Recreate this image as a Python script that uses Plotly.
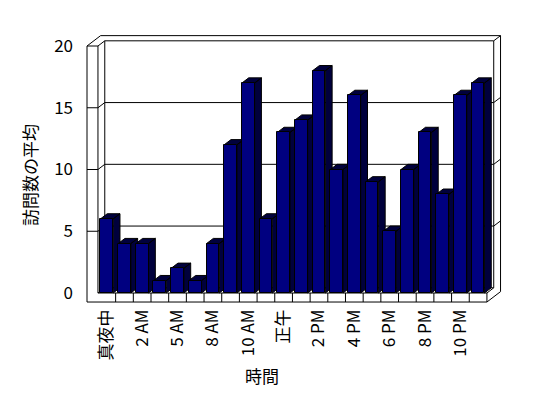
import plotly.graph_objects as go

# ---- data ----
categories = ["真夜中", "1 AM", "2 AM", "3 AM", "5 AM", "6 AM", "8 AM", "9 AM",
              "10 AM", "11 AM", "正午", "1 PM", "2 PM", "3 PM", "4 PM", "5 PM",
              "6 PM", "7 PM", "8 PM", "9 PM", "10 PM", "11 PM"]
values = [6, 4, 4, 1, 2, 1, 4, 12, 17, 6, 13, 14, 18, 10, 16, 9, 5, 10, 13, 8, 16, 17]
y_ticks = [0, 5, 10, 15, 20]
y_title = "訪問数の平均"
x_title = "時間"

# ---- geometry (in axis units) ----
n = len(categories)
xs = list(range(n))
tick_idx = list(range(0, n, 2))
tick_text = [categories[i] for i in tick_idx]

W = 0.72           # bar front width
DX, DY = 0.385, 0.42   # depth vector
XLI = -0.5
XLO = -1.12
XR = n - 0.5
YB = -0.73
YT = y_ticks[-1]

FONT = "Noto Sans CJK JP, Noto Sans, sans-serif"

# side + top faces of each bar (from data)
fx, fy = [], []
for c, v in zip(xs, values):
    xl, xr = c - W / 2, c + W / 2
    fx += [xr, xr + DX, xr + DX, xr, xr, None]
    fy += [0, DY, v + DY, v, 0, None]
    fx += [xl, xr, xr + DX, xl + DX, xl, None]
    fy += [v, v, v + DY, v + DY, v, None]

fig = go.Figure()
fig.add_trace(go.Scatter(x=fx, y=fy, mode="lines", fill="toself",
                         fillcolor="#00003c", line=dict(color="black", width=1),
                         hoverinfo="skip", showlegend=False, xaxis="x", yaxis="y"))
fig.add_trace(go.Bar(x=xs, y=values, width=W,
                     marker=dict(color="#000080", line=dict(color="black", width=1)),
                     showlegend=False, xaxis="x2", yaxis="y2"))

# ---- walls / floor ----
segs = [
    ((XLO, YT), (XLI, YT)),
    ((XLO, YT), (XLO, YB)),
    ((XLO, YB), (XR, YB)),
    ((XLI, YT), (XLI, 0)),
    ((XLI, 0), (XR, 0)),
    ((XR, 0), (XR, YB)),
    ((XR, YB), (XR + 2 * DX, YB + 2 * DY)),
    ((XR + 2 * DX, YB + 2 * DY), (XR + 2 * DX, YT + 2 * DY)),
    ((XLO + 2 * DX, YT + 2 * DY), (XR + 2 * DX, YT + 2 * DY)),
    ((XLO, YT), (XLO + 2 * DX, YT + 2 * DY)),
    ((XLI, YT), (XLI + DX, YT + DY)),
    ((XLI + DX, YT + DY), (XR + DX, YT + DY)),
    ((XR + DX, YT + DY), (XR + DX, DY)),
    ((XR + DX, YT + DY), (XR + 2 * DX, YT + 2 * DY)),
    ((XLI + DX, YT + DY), (XLI + DX, DY)),
    ((XLI + DX, DY), (XR + DX, DY)),
    ((XLI, 0), (XLI + DX, DY)),
    ((XR, 0), (XR + DX, DY)),
]
for v in y_ticks[1:-1]:
    segs += [
        ((XLO, v), (XLI, v)),
        ((XLI, v), (XLI + DX, v + DY)),
        ((XLI + DX, v + DY), (XR + DX, v + DY)),
        ((XR + DX, v + DY), (XR + 2 * DX, v + 2 * DY)),
    ]
for i in range(n - 1):
    b = i + 0.5
    segs.append(((b, 0), (b, YB)))

shapes = [dict(type="line", xref="x", yref="y", x0=a[0], y0=a[1], x1=b[0], y1=b[1],
               line=dict(color="black", width=1), layer="below") for a, b in segs]

XRANGE = [-1.5158, 22.805]
YRANGE = [-1.3765, 21.296]

fig.update_layout(
    width=540, height=390,
    margin=dict(l=72, r=38, t=22, b=88),
    paper_bgcolor="white", plot_bgcolor="white",
    font=dict(family=FONT, size=15, color="black"),
    shapes=shapes,
    bargap=0,
    xaxis=dict(range=XRANGE, showgrid=False, zeroline=False, showline=False,
               tickmode="array", tickvals=tick_idx, ticktext=tick_text,
               tickangle=-90, ticks="", tickfont=dict(size=17),
               ticklabelstandoff=-5),
    yaxis=dict(range=YRANGE, showgrid=False, zeroline=False, showline=False,
               tickmode="array", tickvals=y_ticks, ticks="",
               tickfont=dict(size=17), ticklabelstandoff=6),
    xaxis2=dict(range=XRANGE, overlaying="x", visible=False),
    yaxis2=dict(range=YRANGE, overlaying="y", visible=False),
    annotations=[
        dict(text=y_title, xref="paper", yref="paper", x=-0.1186, y=0.482,
             textangle=-90, showarrow=False, font=dict(size=17),
             xanchor="center", yanchor="middle"),
        dict(text=x_title, xref="paper", yref="paper", x=0.4244, y=-0.2357,
             showarrow=False, font=dict(size=17), xanchor="center", yanchor="middle"),
    ],
)

fig.write_html("out.html")
